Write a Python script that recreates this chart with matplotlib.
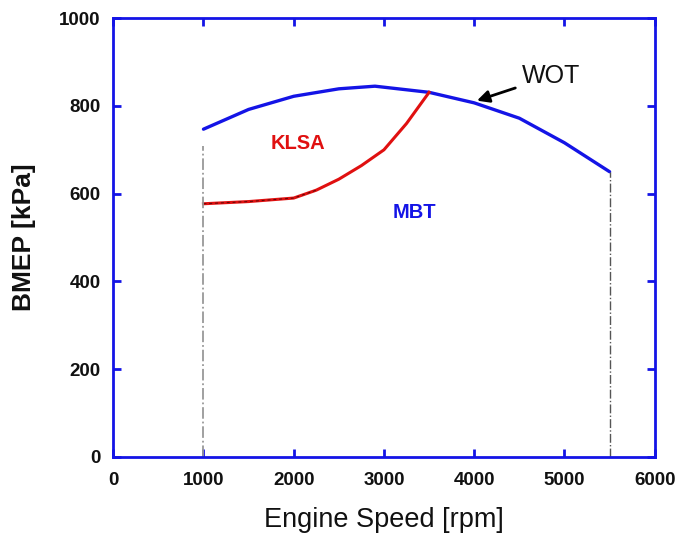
import matplotlib
matplotlib.use("Agg")
import matplotlib.pyplot as plt

plt.rcParams['font.family'] = ['Liberation Sans', 'DejaVu Sans']

wot_rpm = [1000, 1500, 2000, 2500, 2900, 3500, 4000, 4500, 5000, 5500]
wot_bmep = [747, 792, 822, 839, 845, 831, 807, 772, 716, 650]
klsa_rpm = [1000, 1500, 2000, 2250, 2500, 2750, 3000, 3250, 3500]
klsa_bmep = [577, 582, 590, 608, 633, 664, 700, 760, 831]
limit_rpm = [1000, 5500]
limit_bmep = [708, 650]
x_ticks = [0, 1000, 2000, 3000, 4000, 5000, 6000]
y_ticks = [0, 200, 400, 600, 800, 1000]

fig = plt.figure(figsize=(6.82, 5.35), dpi=100)
ax = fig.add_axes([0.166, 0.146, 0.794, 0.820])

blue = '#1414e6'
ax.plot(wot_rpm, wot_bmep, color=blue, lw=2.4, solid_capstyle='round')
ax.plot(klsa_rpm, klsa_bmep, color='#e01010', lw=2.2)
ax.plot(klsa_rpm[:4], klsa_bmep[:4], color='black', lw=0.7, ls=(0, (3, 3)), alpha=0.6)
ax.plot([limit_rpm[0]] * 2, [0, limit_bmep[0]], color='#999999', lw=1.3, ls='-.')
ax.plot([limit_rpm[1]] * 2, [0, limit_bmep[1]], color='#555555', lw=1.0, ls='-.')

ax.text(2050, 715, 'KLSA', color='#e01010', fontsize=14.5, fontweight='bold', ha='center', va='center')
ax.text(3340, 556, 'MBT', color=blue, fontsize=14.5, fontweight='bold', ha='center', va='center')
ax.annotate('WOT', xy=(4030, 812), xytext=(4530, 868), fontsize=18, color='#111111',
            ha='left', va='center',
            arrowprops=dict(arrowstyle='-|>', color='black', lw=2.0, mutation_scale=18,
                            shrinkA=3, shrinkB=0))

ax.set_xlim(0, 6000)
ax.set_ylim(0, 1000)
ax.set_xticks(x_ticks)
ax.set_yticks(y_ticks)
for lbl in ax.get_xticklabels() + ax.get_yticklabels():
    lbl.set_fontweight('bold')
ax.tick_params(direction='in', length=6, width=2, color=blue, labelsize=13.5,
               top=True, right=True, labelcolor='#111111')
ax.tick_params(axis='x', pad=11)
ax.tick_params(axis='y', pad=9)
for sp in ax.spines.values():
    sp.set_color(blue)
    sp.set_linewidth(2)

ax.set_xlabel('Engine Speed [rpm]', fontsize=19.5, color='#111111', labelpad=13)
ax.set_ylabel('BMEP [kPa]', fontsize=19, color='#111111', fontweight='bold', labelpad=17)

fig.savefig('out.png', dpi=100)
